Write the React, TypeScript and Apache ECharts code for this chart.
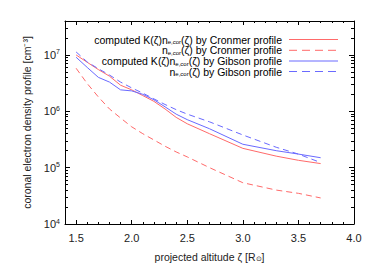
import React, { useEffect, useRef } from "react";
import * as echarts from "echarts";

const altitude = [1.5, 1.6, 1.7, 1.8, 1.9, 2.0, 2.1, 2.2, 2.3, 2.4, 2.5, 2.7, 3.0, 3.3, 3.5, 3.7];
const cronmerComputed = [1.0e7, 7.4e6, 5.5e6, 4.2e6, 2.9e6, 2.4e6, 1.9e6, 1.5e6, 1.1e6, 7.8e5, 6.0e5, 4.0e5, 2.2e5, 1.6e5, 1.35e5, 1.18e5];
const cronmerNe = [5.8e6, 3.1e6, 1.8e6, 1.1e6, 7.6e5, 5.3e5, 4.0e5, 3.1e5, 2.4e5, 1.9e5, 1.55e5, 1.0e5, 5.4e4, 4.0e4, 3.5e4, 2.9e4];
const gibsonComputed = [9.1e6, 6.0e6, 4.0e6, 3.3e6, 2.4e6, 2.3e6, 2.0e6, 1.6e6, 1.2e6, 8.9e5, 7.1e5, 4.9e5, 2.6e5, 2.0e5, 1.74e5, 1.5e5];
const gibsonNe = [1.13e7, 7.5e6, 5.7e6, 4.4e6, 3.3e6, 2.6e6, 2.1e6, 1.66e6, 1.32e6, 1.07e6, 8.9e5, 6.5e5, 3.8e5, 2.3e5, 1.74e5, 1.23e5];

const xMajorTicks = [1.5, 2.0, 2.5, 3.0, 3.5, 4.0];
const xMinorTicks = [1.4, 1.6, 1.7, 1.8, 1.9, 2.1, 2.2, 2.3, 2.4, 2.6, 2.7, 2.8, 2.9, 3.1, 3.2, 3.3, 3.4, 3.6, 3.7, 3.8, 3.9];
const yMajorTicks = [1e4, 1e5, 1e6, 1e7];
const yMinorTicks = [
  2e4, 3e4, 4e4, 5e4, 6e4, 7e4, 8e4, 9e4,
  2e5, 3e5, 4e5, 5e5, 6e5, 7e5, 8e5, 9e5,
  2e6, 3e6, 4e6, 5e6, 6e6, 7e6, 8e6, 9e6,
  2e7, 3e7, 4e7,
];

const legendLabels = [
  "{a|computed K(ζ)n}{s|e,cor}{a|(ζ) by Cronmer profile}",
  "{a|n}{s|e,cor}{a|(ζ) by Cronmer profile}",
  "{a|computed K(ζ)n}{s|e,cor}{a|(ζ) by Gibson profile}",
  "{a|n}{s|e,cor}{a|(ζ) by Gibson profile}",
];

const RED = "#ff6a6a";
const BLUE = "#6a6aff";
const FONT = "Liberation Sans";
const TXT = "#222";

function pairs(xs: number[], ys: number[]) {
  return xs.map((x, i) => [x, ys[i]]);
}

export default function App() {
  const ref = useRef<HTMLDivElement>(null);
  useEffect(() => {
    if (!ref.current) return;
    const chart = echarts.init(ref.current, null, { renderer: "svg" });
    const frame = { show: true, lineStyle: { color: "#000", width: 1 } };
    const baseX = { type: "value", min: 1.4, max: 4.0, splitLine: { show: false } };
    const baseY = { type: "log", logBase: 10, min: 1e4, max: 4e7, splitLine: { show: false } };
    const seriesDefs = [
      { name: "c1", data: cronmerComputed, color: RED, dash: "solid" },
      { name: "c2", data: cronmerNe, color: RED, dash: [6, 4] },
      { name: "g1", data: gibsonComputed, color: BLUE, dash: "solid" },
      { name: "g2", data: gibsonNe, color: BLUE, dash: [6, 4] },
    ];
    const rich = {
      a: { fontSize: 10.5, fontFamily: FONT, color: TXT },
      s: { fontSize: 6, fontFamily: FONT, color: TXT, verticalAlign: "bottom", lineHeight: 8 },
    };
    const legendRowsY = [39.5, 50.3, 61, 71.5];
    const graphics: any[] = [];
    seriesDefs.forEach((s, i) => {
      graphics.push({
        type: "text",
        x: 282,
        y: legendRowsY[i],
        style: { text: legendLabels[i], rich, align: "right", verticalAlign: "middle" },
      });
      graphics.push({
        type: "line",
        shape: { x1: 289, y1: legendRowsY[i], x2: 338, y2: legendRowsY[i] },
        style: { stroke: s.color, lineWidth: 1, lineDash: s.dash === "solid" ? null : [8, 5] },
      });
    });
    chart.setOption({
      animation: false,
      grid: { left: 65, right: 20, top: 21, bottom: 43, outerBoundsMode: "none", containLabel: false },
      textStyle: { fontFamily: FONT },
      xAxis: [
        {
          ...baseX,
          position: "bottom",
          axisLine: frame,
          axisTick: { inside: true, length: 4, customValues: xMajorTicks, lineStyle: { color: "#000" } },
          axisLabel: {
            customValues: xMajorTicks,
            formatter: (v: number) => v.toFixed(1),
            fontSize: 11,
            fontFamily: FONT,
            color: TXT,
            margin: 8,
          },
          name: "projected altitude ζ [R{s|⊙}]",
          nameLocation: "middle",
          nameGap: 27,
          nameTextStyle: {
            fontSize: 10.5,
            fontFamily: FONT,
            color: TXT,
            rich: { s: { fontSize: 7, verticalAlign: "bottom", lineHeight: 9, color: TXT, fontFamily: FONT } },
          },
        },
        {
          ...baseX,
          position: "bottom",
          axisLine: { show: false },
          axisTick: { inside: true, length: 2, customValues: xMinorTicks, lineStyle: { color: "#000" } },
          axisLabel: { show: false },
        },
        {
          ...baseX,
          position: "top",
          axisLine: frame,
          axisTick: { inside: true, length: 4, customValues: xMajorTicks, lineStyle: { color: "#000" } },
          axisLabel: { show: false },
        },
        {
          ...baseX,
          position: "top",
          axisLine: { show: false },
          axisTick: { inside: true, length: 2, customValues: xMinorTicks, lineStyle: { color: "#000" } },
          axisLabel: { show: false },
        },
      ],
      yAxis: [
        {
          ...baseY,
          position: "left",
          axisLine: frame,
          axisTick: { inside: true, length: 5, customValues: yMajorTicks, lineStyle: { color: "#000" } },
          axisLabel: {
            customValues: yMajorTicks,
            formatter: (v: number) => "{b|10}{p|" + Math.round(Math.log10(v)) + "}",
            rich: {
              b: { fontSize: 11, fontFamily: FONT, color: TXT, lineHeight: 13 },
              p: { fontSize: 7, fontFamily: FONT, color: TXT, verticalAlign: "top", lineHeight: 13, padding: [0, 0, 4, 0] },
            },
            margin: 5,
          },
          name: "coronal electron density profile [cm⁻³]",
          nameLocation: "middle",
          nameGap: 30,
          nameTextStyle: { fontSize: 10.5, fontFamily: FONT, color: TXT },
        },
        {
          ...baseY,
          position: "left",
          axisLine: { show: false },
          axisTick: { inside: true, length: 3, customValues: yMinorTicks, lineStyle: { color: "#000" } },
          axisLabel: { show: false },
        },
        {
          ...baseY,
          position: "right",
          axisLine: frame,
          axisTick: { inside: true, length: 5, customValues: yMajorTicks, lineStyle: { color: "#000" } },
          axisLabel: { show: false },
        },
        {
          ...baseY,
          position: "right",
          axisLine: { show: false },
          axisTick: { inside: true, length: 3, customValues: yMinorTicks, lineStyle: { color: "#000" } },
          axisLabel: { show: false },
        },
      ],
      series: seriesDefs.map((s) => ({
        type: "line",
        name: s.name,
        xAxisIndex: 0,
        yAxisIndex: 0,
        data: pairs(altitude, s.data),
        showSymbol: false,
        symbol: "none",
        lineStyle: { color: s.color, width: 1, type: s.dash },
        itemStyle: { color: s.color },
      })),
      graphic: graphics,
    });
    return () => chart.dispose();
  }, []);
  return <div ref={ref} style={{ width: 374, height: 267, position: "absolute", left: 0, top: 0 }} />;
}
